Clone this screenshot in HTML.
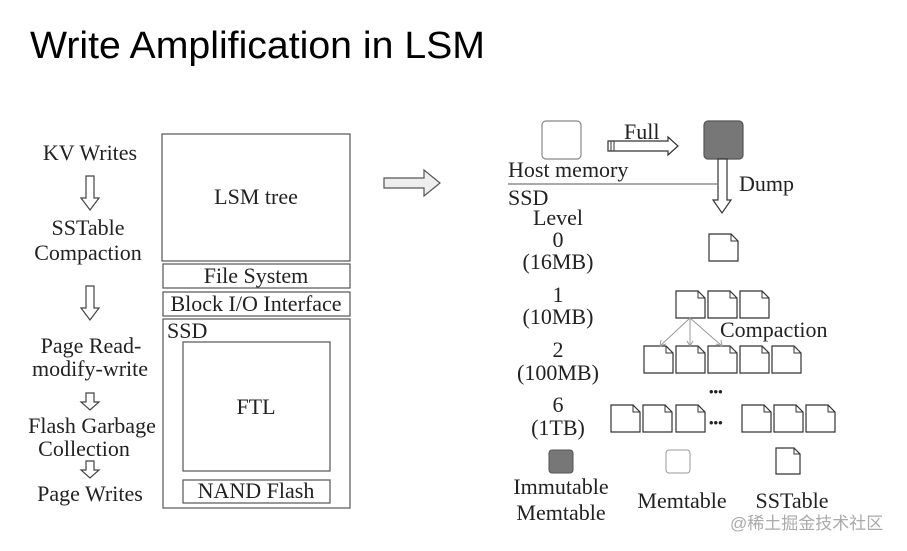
<!DOCTYPE html>
<html><head><meta charset="utf-8"><style>
html,body{margin:0;padding:0;background:#fff;}
svg{display:block;}
.s{font-family:"Liberation Serif",serif;font-size:22px;fill:#222;}
.d{font-family:"Liberation Sans",sans-serif;font-size:13px;fill:#222;}
</style></head><body>
<svg width="907" height="551" viewBox="0 0 907 551" xmlns="http://www.w3.org/2000/svg">
<defs>
<g id="doc"><path d="M0 0 H22 L29 7 V27 H0 Z" fill="#fff" stroke="#333" stroke-width="1.2"/><path d="M22 0 V7 H29" fill="none" stroke="#333" stroke-width="1"/></g>
<path id="da" d="M-4 0 H4 V22 H9 L0 34 L-9 22 H-4 Z" fill="#fff" stroke="#444" stroke-width="1.2"/>
<path id="ds" d="M-4 0 H4 V9 H9 L0 17 L-9 9 H-4 Z" fill="#fff" stroke="#444" stroke-width="1.2"/>
</defs>
<text x="30" y="58" font-family="Liberation Sans, sans-serif" font-size="38" fill="#000" textLength="455" lengthAdjust="spacingAndGlyphs">Write Amplification in LSM</text>

<g class="s" text-anchor="middle">
<text x="90" y="160">KV Writes</text>
<text x="88" y="235">SSTable</text>
<text x="88" y="260">Compaction</text>
<text x="91" y="353">Page Read-</text>
<text x="90" y="376">modify-write</text>
<text x="92" y="433">Flash Garbage</text>
<text x="84" y="456">Collection</text>
<text x="90" y="501">Page Writes</text>
</g>
<use href="#da" x="90" y="176"/>
<use href="#da" x="90" y="286"/>
<use href="#ds" x="90" y="393"/>
<use href="#ds" x="90" y="461"/>

<g fill="none" stroke="#555" stroke-width="1.2">
<rect x="162" y="134" width="188" height="127"/>
<rect x="163" y="264" width="187" height="24"/>
<rect x="163" y="292" width="187" height="24"/>
<rect x="163" y="319" width="187" height="189"/>
<rect x="183" y="342" width="147" height="129"/>
<rect x="183" y="480" width="147" height="23"/>
</g>
<g class="s" text-anchor="middle">
<text x="256" y="204">LSM tree</text>
<text x="256" y="283">File System</text>
<text x="256" y="311">Block I/O Interface</text>
<text x="256" y="414">FTL</text>
<text x="256" y="498">NAND Flash</text>
</g>
<text class="s" x="167" y="338">SSD</text>

<path d="M384 178 H424 V170 L440 183 L424 196 V188 H384 Z" fill="#eee" stroke="#555" stroke-width="1.2"/>

<rect x="542" y="121" width="39" height="38" rx="4" fill="#fff" stroke="#888" stroke-width="1.2"/>
<rect x="704" y="121" width="39" height="38" rx="4" fill="#777" stroke="#555" stroke-width="1.2"/>
<path d="M608 141 H668 V137 L678 146 L668 155 V151 H608 Z" fill="#fff" stroke="#333" stroke-width="1.2"/>
<path d="M611 141 V151 M614 141 V151" stroke="#333" stroke-width="1"/>
<text class="s" x="624" y="139">Full</text>
<text class="s" x="508" y="177">Host memory</text>
<line x1="508" y1="184" x2="717" y2="184" stroke="#555" stroke-width="1"/>
<text class="s" x="508" y="205">SSD</text>
<path d="M718 159 H727 V200 H731 L722 213 L713 200 H718 Z" fill="#fff" stroke="#333" stroke-width="1.2"/>
<text class="s" x="739" y="191">Dump</text>

<g class="s" text-anchor="middle">
<text x="558" y="225">Level</text>
<text x="558" y="247">0</text>
<text x="558" y="269">(16MB)</text>
<text x="558" y="302">1</text>
<text x="558" y="324">(10MB)</text>
<text x="558" y="357">2</text>
<text x="558" y="380">(100MB)</text>
<text x="558" y="412">6</text>
<text x="558" y="435">(1TB)</text>
</g>

<use href="#doc" x="709" y="234"/>
<use href="#doc" x="676" y="291"/><use href="#doc" x="708" y="291"/><use href="#doc" x="740" y="291"/>
<use href="#doc" x="644" y="346"/><use href="#doc" x="676" y="346"/><use href="#doc" x="708" y="346"/><use href="#doc" x="740" y="346"/><use href="#doc" x="772" y="346"/>
<use href="#doc" x="611" y="405"/><use href="#doc" x="643" y="405"/><use href="#doc" x="676" y="405"/>
<use href="#doc" x="742" y="405"/><use href="#doc" x="774" y="405"/><use href="#doc" x="806" y="405"/>
<g stroke="#999" stroke-width="1" fill="none">
<path d="M690 318 L660 346 M690 318 L690 346 M690 318 L722 346"/>
<path d="M660 346 l1 -6 M660 346 l6 -2 M690 346 l-3 -5 M690 346 l3 -5 M722 346 l-6 -2 M722 346 l-1 -6"/>
</g>
<text class="s" x="720" y="337">Compaction</text>
<text class="d" x="709" y="396">•••</text>
<text class="d" x="709" y="427">•••</text>

<rect x="549" y="450" width="24" height="23" rx="3" fill="#777" stroke="#555"/>
<rect x="666" y="450" width="24" height="23" rx="3" fill="#fff" stroke="#999"/>
<path d="M776 448 H794 L800 454 V474 H776 Z" fill="#fff" stroke="#333" stroke-width="1.2"/>
<path d="M794 448 V454 H800" fill="none" stroke="#333"/>
<g class="s" text-anchor="middle">
<text x="561" y="494">Immutable</text>
<text x="561" y="520">Memtable</text>
<text x="682" y="508">Memtable</text>
<text x="792" y="508">SSTable</text>
</g>
<text x="730" y="529" font-family="Liberation Sans, 'Noto Sans CJK SC', sans-serif" font-size="17" fill="#aaa">@稀土掘金技术社区</text>
</svg>
</body></html>
